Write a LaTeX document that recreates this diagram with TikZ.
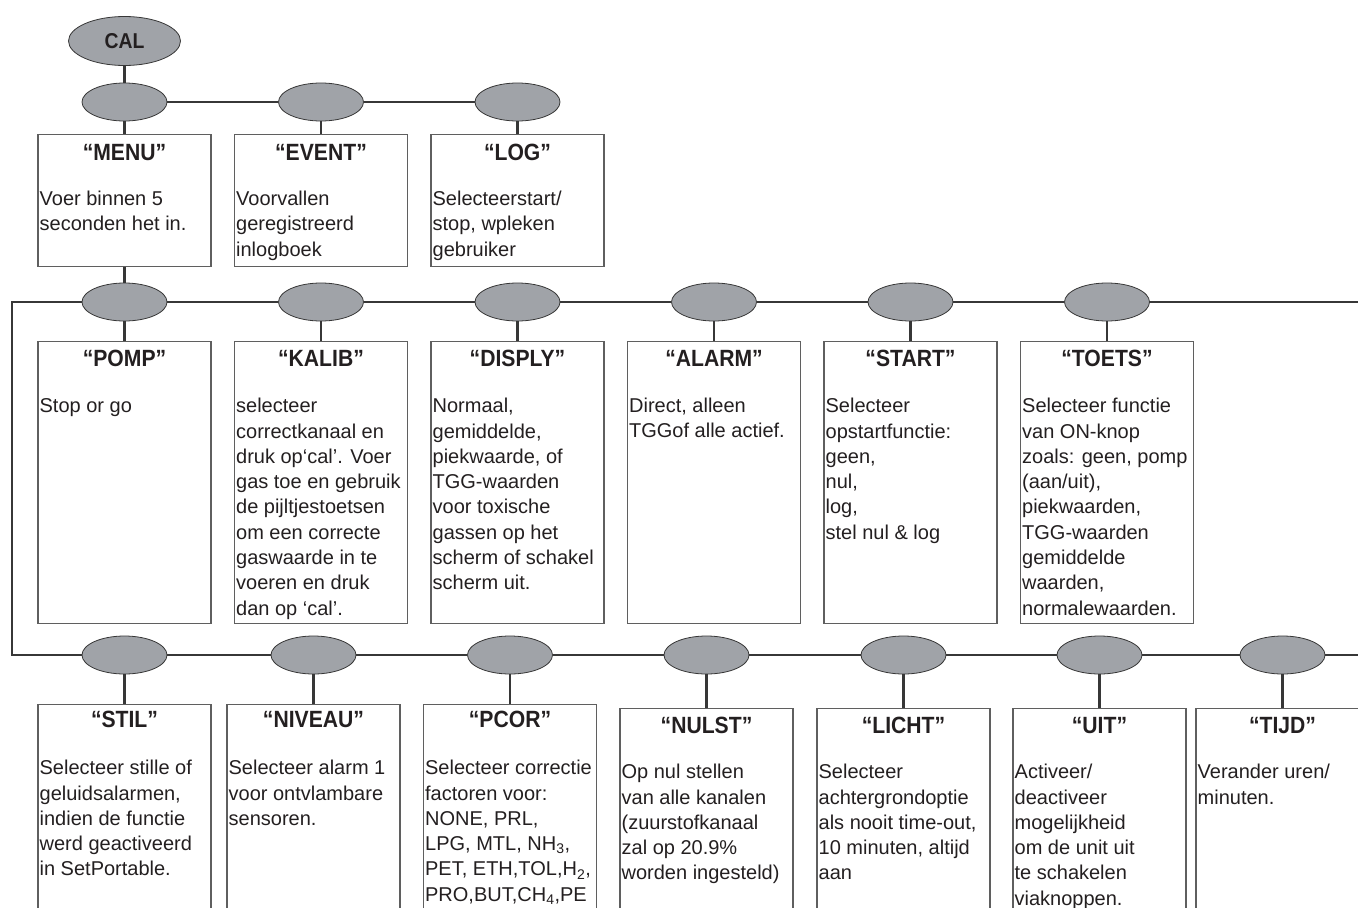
\documentclass[tikz,border=0pt]{standalone}
\usepackage{fontspec}
\setmainfont{Liberation Sans}
\newfontfamily\headfont[FakeStretch=0.9]{Liberation Sans}
\usepackage{tikz}
\usetikzlibrary{positioning,shapes.geometric}
\definecolor{blobgray}{RGB}{160,163,168}
\definecolor{ink}{RGB}{35,31,32}
\definecolor{rule}{RGB}{55,55,55}
\definecolor{frame}{RGB}{95,95,95}

\begin{document}
\begin{tikzpicture}[x=1pt, y=-1pt
		,conn/.style={draw=rule, line width=2.4pt}
		,blob/.style={ellipse, draw=rule, line width=0.8pt, fill=blobgray, minimum width=85pt, minimum height=38pt, inner sep=0pt}
		,card/.style={rectangle, draw=frame, line width=1.1pt, minimum width=173pt, anchor=north, inner sep=0pt}
		,head/.style={font=\headfont\bfseries\fontsize{23.5}{26}\selectfont, text=ink, inner sep=0pt, text height=17pt, text depth=0pt}
		,txt/.style={font=\fontsize{20}{25.3}\selectfont, text=ink, align=left, inner sep=0pt}
	]
		\useasboundingbox (0,0) rectangle (1358,908);
		\clip (0,0) rectangle (1358,908);

		% top level
		\node [blob, minimum width=112pt, minimum height=49pt, font=\headfont\bfseries\fontsize{21.5}{24}\selectfont, text=ink] (cal) at (124.5,41) {CAL};
		\node [blob] (m1) at (124.5,102) {};
		\node [blob] (m2) at (321,102) {};
		\node [blob] (m3) at (517.5,102) {};

		\node [card, minimum height=132pt] (menu) at (124.5,134) {};
		\node [head, below=9pt of menu.north] (menuT) {“MENU”};
		\node [txt, below right=57pt and 2pt of menu.north west] (menuB) {Voer binnen 5\\seconden het in.};

		\node [card, minimum height=132pt] (event) at (321,134) {};
		\node [head, below=9pt of event.north] (eventT) {“EVENT”};
		\node [txt, below right=57pt and 2pt of event.north west] (eventB) {Voorvallen\\geregistreerd\\inlogboek};

		\node [card, minimum height=132pt] (log) at (517.5,134) {};
		\node [head, below=9pt of log.north] (logT) {“LOG”};
		\node [txt, below right=57pt and 2pt of log.north west] (logB) {Selecteerstart/\\stop, wpleken\\gebruiker};

		% second row
		\node [blob] (p1) at (124.5,302) {};
		\node [blob] (p2) at (321,302) {};
		\node [blob] (p3) at (517.5,302) {};
		\node [blob] (p4) at (714,302) {};
		\node [blob] (p5) at (910.5,302) {};
		\node [blob] (p6) at (1107,302) {};

		\node [card, minimum height=282pt] (pomp) at (124.5,341) {};
		\node [head, below=8.5pt of pomp.north] (pompT) {“POMP”};
		\node [txt, below right=57pt and 2pt of pomp.north west] (pompB) {Stop or go};

		\node [card, minimum height=282pt] (kalib) at (321,341) {};
		\node [head, below=8.5pt of kalib.north] (kalibT) {“KALIB”};
		\node [txt, below right=57pt and 2pt of kalib.north west] (kalibB) {selecteer\\correctkanaal en\\druk op‘cal’. Voer\\gas toe en gebruik\\de pijltjestoetsen\\om een correcte\\gaswaarde in te\\voeren en druk\\dan op ‘cal’.};

		\node [card, minimum height=282pt] (disply) at (517.5,341) {};
		\node [head, below=8.5pt of disply.north] (displyT) {“DISPLY”};
		\node [txt, below right=57pt and 2pt of disply.north west] (displyB) {Normaal,\\gemiddelde,\\piekwaarde, of\\TGG-waarden\\voor toxische\\gassen op het\\scherm of schakel\\scherm uit.};

		\node [card, minimum height=282pt] (alarm) at (714,341) {};
		\node [head, below=8.5pt of alarm.north] (alarmT) {“ALARM”};
		\node [txt, below right=57pt and 2pt of alarm.north west] (alarmB) {Direct, alleen\\TGGof alle actief.};

		\node [card, minimum height=282pt] (start) at (910.5,341) {};
		\node [head, below=8.5pt of start.north] (startT) {“START”};
		\node [txt, below right=57pt and 2pt of start.north west] (startB) {Selecteer\\opstartfunctie:\\geen,\\nul,\\log,\\stel nul \& log};

		\node [card, minimum height=282pt] (toets) at (1107,341) {};
		\node [head, below=8.5pt of toets.north] (toetsT) {“TOETS”};
		\node [txt, below right=57pt and 2pt of toets.north west] (toetsB) {Selecteer functie\\van ON-knop\\zoals: geen, pomp\\(aan/uit),\\piekwaarden,\\TGG-waarden\\gemiddelde\\waarden,\\normalewaarden.};

		% third row
		\node [blob] (s1) at (124.5,655) {};
		\node [blob] (s2) at (313.5,655) {};
		\node [blob] (s3) at (510,655) {};
		\node [blob] (s4) at (706.5,655) {};
		\node [blob] (s5) at (903.5,655) {};
		\node [blob] (s6) at (1099.5,655) {};
		\node [blob] (s7) at (1282.5,655) {};

		\node [card, minimum height=260pt] (stil) at (124.5,704) {};
		\node [head, below=6.5pt of stil.north] (stilT) {“STIL”};
		\node [txt, below right=56pt and 2pt of stil.north west] (stilB) {Selecteer stille of\\geluidsalarmen,\\indien de functie\\werd geactiveerd\\in SetPortable.};

		\node [card, minimum height=260pt] (niveau) at (313.5,704) {};
		\node [head, below=6.5pt of niveau.north] (niveauT) {“NIVEAU”};
		\node [txt, below right=56pt and 2pt of niveau.north west] (niveauB) {Selecteer alarm 1\\voor ontvlambare\\sensoren.};

		\node [card, minimum height=260pt] (pcor) at (510,704) {};
		\node [head, below=6.5pt of pcor.north] (pcorT) {“PCOR”};
		\node [txt, below right=56pt and 2pt of pcor.north west] (pcorB) {Selecteer correctie\\factoren voor:\\NONE, PRL,\\LPG, MTL, NH\textsubscript{3},\\PET, ETH,TOL,H\textsubscript{2},\\PRO,BUT,CH\textsubscript{4},PE};

		\node [card, minimum height=260pt] (nulst) at (706.5,708) {};
		\node [head, below=8.5pt of nulst.north] (nulstT) {“NULST”};
		\node [txt, below right=56pt and 2pt of nulst.north west] (nulstB) {Op nul stellen\\van alle kanalen\\(zuurstofkanaal\\zal op 20.9\%\\worden ingesteld)};

		\node [card, minimum height=260pt] (licht) at (903.5,708) {};
		\node [head, below=8.5pt of licht.north] (lichtT) {“LICHT”};
		\node [txt, below right=56pt and 2pt of licht.north west] (lichtB) {Selecteer\\achtergrondoptie\\als nooit time-out,\\10 minuten, altijd\\aan};

		\node [card, minimum height=260pt] (uit) at (1099.5,708) {};
		\node [head, below=8.5pt of uit.north] (uitT) {“UIT”};
		\node [txt, below right=56pt and 2pt of uit.north west] (uitB) {Activeer/\\deactiveer\\mogelijkheid\\om de unit uit\\te schakelen\\viaknoppen.};

		\node [card, minimum height=260pt] (tijd) at (1282.5,708) {};
		\node [head, below=8.5pt of tijd.north] (tijdT) {“TIJD”};
		\node [txt, below right=56pt and 2pt of tijd.north west] (tijdB) {Verander uren/\\minuten.};

		% connectors
		\coordinate (lft) at (12,655);
		\coordinate (rgt2) at (1370,302);
		\coordinate (rgt3) at (1370,655);
		\draw [conn] (cal) -- (m1);
		\draw [conn] (m1) -- (m2) -- (m3);
		\draw [conn] (m1) -- (menu);
		\draw [conn] (m2) -- (event);
		\draw [conn] (m3) -- (log);
		\draw [conn] (menu) -- (p1);
		\draw [conn] (p1) -- (p2) -- (p3) -- (p4) -- (p5) -- (p6) -- (rgt2);
		\draw [conn] (p1) -- (pomp);
		\draw [conn] (p2) -- (kalib);
		\draw [conn] (p3) -- (disply);
		\draw [conn] (p4) -- (alarm);
		\draw [conn] (p5) -- (start);
		\draw [conn] (p6) -- (toets);
		\draw [conn] (p1.west) -| (lft) -- (s1.west);
		\draw [conn] (s1) -- (s2) -- (s3) -- (s4) -- (s5) -- (s6) -- (s7) -- (rgt3);
		\draw [conn] (s1) -- (stil);
		\draw [conn] (s2) -- (niveau);
		\draw [conn] (s3) -- (pcor);
		\draw [conn] (s4) -- (nulst);
		\draw [conn] (s5) -- (licht);
		\draw [conn] (s6) -- (uit);
		\draw [conn] (s7) -- (tijd);
	\end{tikzpicture}
\end{document}
